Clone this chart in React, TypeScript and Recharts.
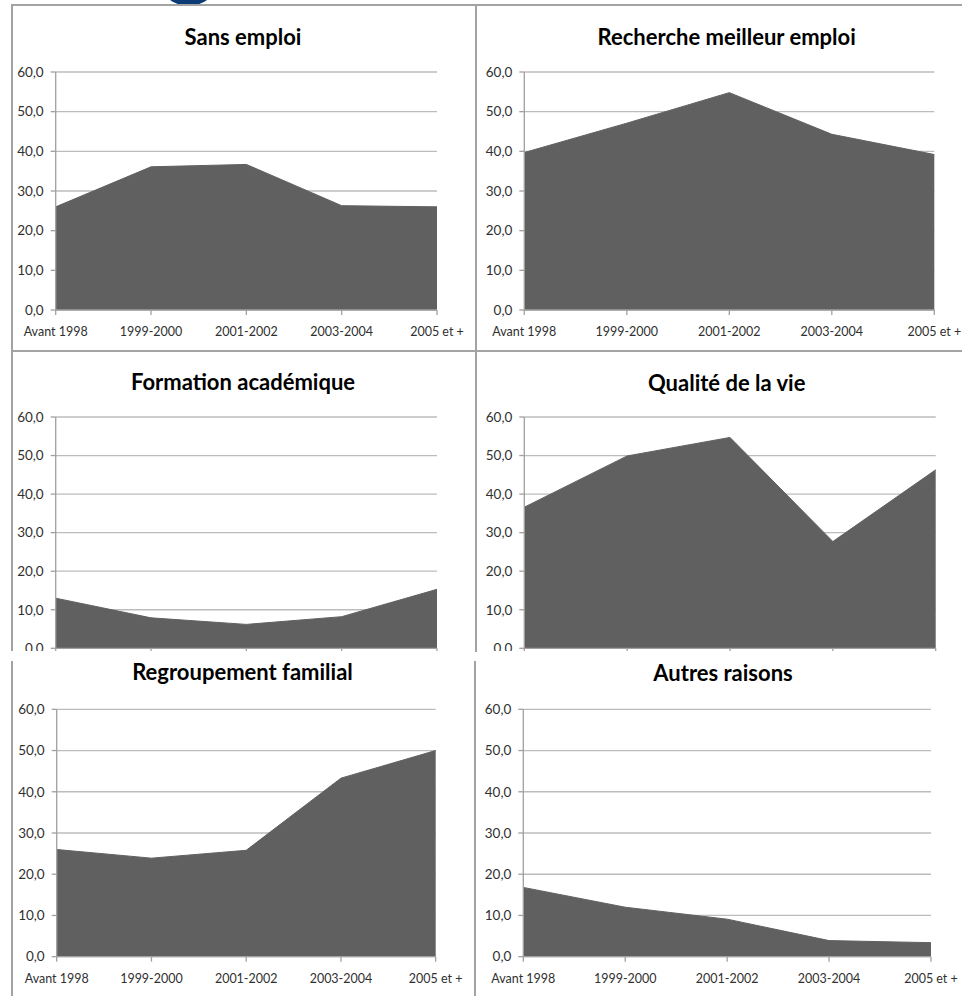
import React from "react";
import { AreaChart, Area, XAxis, YAxis, CartesianGrid } from "recharts";

// ---- data ----
const categories = ["Avant 1998", "1999-2000", "2001-2002", "2003-2004", "2005 et +"];
const yTicks = [0, 10, 20, 30, 40, 50, 60];
const sansEmploi = [26.0, 36.1, 36.7, 26.3, 26.0];
const rechercheMeilleurEmploi = [39.7, 47.1, 54.8, 44.3, 39.2];
const formationAcademique = [13.0, 7.9, 6.2, 8.2, 15.3];
const qualiteVie = [36.6, 49.9, 54.7, 27.7, 46.3];
const regroupementFamilial = [26.0, 23.9, 25.8, 43.3, 50.0];
const autresRaisons = [16.8, 12.0, 9.1, 3.9, 3.4];
const titles = [
  "Sans emploi",
  "Recherche meilleur emploi",
  "Formation académique",
  "Qualité de la vie",
  "Regroupement familial",
  "Autres raisons",
];
const seriesList = [
  sansEmploi,
  rechercheMeilleurEmploi,
  formationAcademique,
  qualiteVie,
  regroupementFamilial,
  autresRaisons,
];
// middle row panels are cut off at the bottom in the original: no category labels visible
const showCategoryLabels = [true, true, false, false, true, true];

// ---- layout (page coordinates) ----
type Layout = {
  clip: { x: number; y: number; w: number; h: number };
  plot: { l: number; r: number; t: number; b: number };
  title: { cx: number; cy: number };
};
const layouts: Layout[] = [
  { clip: { x: 13, y: 7, w: 462, h: 343 }, plot: { l: 55.7, r: 437, t: 72, b: 310 }, title: { cx: 243, cy: 37 } },
  { clip: { x: 478, y: 7, w: 484, h: 343 }, plot: { l: 524.3, r: 934.3, t: 72, b: 310 }, title: { cx: 726.7, cy: 37 } },
  { clip: { x: 13, y: 353, w: 462, h: 298 }, plot: { l: 55.7, r: 437, t: 417, b: 648.3 }, title: { cx: 243, cy: 382 } },
  { clip: { x: 478, y: 353, w: 484, h: 298 }, plot: { l: 524.3, r: 935.7, t: 417, b: 648.3 }, title: { cx: 726.7, cy: 383 } },
  { clip: { x: 13, y: 652, w: 462, h: 344 }, plot: { l: 56.7, r: 435.7, t: 709.3, b: 956.7 }, title: { cx: 242.5, cy: 672 } },
  { clip: { x: 478, y: 652, w: 484, h: 344 }, plot: { l: 523.3, r: 931, t: 709.3, b: 956.7 }, title: { cx: 723, cy: 672.5 } },
];

const FONT = "Lato, 'Open Sans', sans-serif";
const AREA_COLOR = "#606060";
const GRID_COLOR = "#bcbcbc";
const AXIS_COLOR = "#a0a0a0";
const TEXT_COLOR = "#303030";
const BORDER_COLOR = "#a3a3a3";

const fmt = (v: number) => v.toFixed(1).replace(".", ",");

const EmptyTick = () => <g />;

function Panel({
  values,
  title,
  layout,
  showCats,
}: {
  values: number[];
  title: string;
  layout: Layout;
  showCats: boolean;
}) {
  const { clip, plot } = layout;
  const data = categories.map((c, i) => ({ cat: c, v: values[i] }));
  const xAxisH = 30;
  const chartH = plot.b - clip.y + xAxisH;
  const yAxisW = plot.l - clip.x;
  return (
    <>
      <div
        style={{
          position: "absolute",
          left: clip.x,
          top: clip.y,
          width: clip.w,
          height: clip.h,
          overflow: "hidden",
        }}
      >
        <AreaChart
          width={clip.w}
          height={chartH}
          data={data}
          margin={{ top: plot.t - clip.y, right: clip.x + clip.w - plot.r, bottom: 0, left: 0 }}
        >
          <CartesianGrid vertical={false} stroke={GRID_COLOR} strokeWidth={1.3} />
          <XAxis
            dataKey="cat"
            height={xAxisH}
            interval={0}
            tickSize={5}
            tickMargin={12}
            axisLine={{ stroke: AXIS_COLOR, strokeWidth: 1.3 }}
            tickLine={{ stroke: AXIS_COLOR, strokeWidth: 1.3 }}
            tick={showCats ? { fill: TEXT_COLOR, fontSize: 12.5, fontFamily: FONT } : EmptyTick}
          />
          <YAxis
            width={yAxisW}
            domain={[0, 60]}
            ticks={yTicks}
            interval={0}
            tickSize={5}
            tickMargin={7}
            tickFormatter={fmt}
            axisLine={{ stroke: AXIS_COLOR, strokeWidth: 1.3 }}
            tickLine={{ stroke: AXIS_COLOR, strokeWidth: 1.3 }}
            tick={{ fill: TEXT_COLOR, fontSize: 13.5, fontFamily: FONT }}
          />
          <Area
            type="linear"
            dataKey="v"
            fill={AREA_COLOR}
            fillOpacity={1}
            stroke={AREA_COLOR}
            strokeWidth={1}
            dot={false}
            activeDot={false}
            isAnimationActive={false}
          />
        </AreaChart>
      </div>
      <div
        style={{
          position: "absolute",
          left: layout.title.cx,
          top: layout.title.cy,
          transform: "translate(-50%, -50%)",
          whiteSpace: "nowrap",
          fontFamily: FONT,
          fontWeight: 700,
          fontSize: 22,
          color: "#000",
          lineHeight: 1,
        }}
      >
        {title}
      </div>
    </>
  );
}

function Line({ x, y, w, h }: { x: number; y: number; w: number; h: number }) {
  return <div style={{ position: "absolute", left: x, top: y, width: w, height: h, background: BORDER_COLOR }} />;
}

export default function App() {
  return (
    <div
      style={{
        position: "absolute",
        left: 0,
        top: 0,
        width: 962,
        height: 996,
        background: "#fff",
        overflow: "hidden",
      }}
    >
      {/* logo fragment at top */}
      <div
        style={{
          position: "absolute",
          left: 166,
          top: -18,
          width: 45,
          height: 23,
          borderRadius: "50%",
          background: "#0c3a74",
        }}
      />
      {/* frame lines */}
      <Line x={11} y={4} w={951} h={2} />
      <Line x={11} y={350} w={951} h={2} />
      <Line x={11} y={4} w={2} h={647} />
      <Line x={475} y={4} w={2} h={648} />
      <Line x={11} y={661} w={2} h={335} />
      <Line x={474} y={661} w={2} h={335} />
      {seriesList.map((s, i) => (
        <Panel key={i} values={s} title={titles[i]} layout={layouts[i]} showCats={showCategoryLabels[i]} />
      ))}
    </div>
  );
}
